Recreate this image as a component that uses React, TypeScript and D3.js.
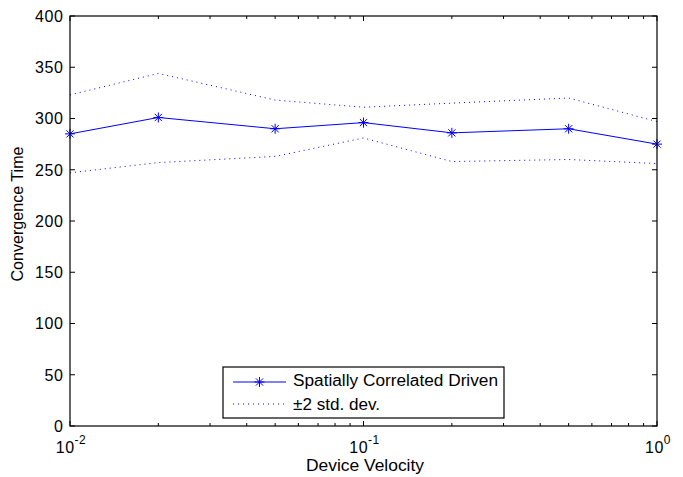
import * as d3 from "d3";
import { useEffect, useRef } from "react";

// ---- data ----
const velocities = [0.01, 0.02, 0.05, 0.1, 0.2, 0.5, 1];
const meanTime = [285, 301, 290, 296, 286, 290, 275];
const upperTime = [323, 344, 318, 311, 315, 320, 297];
const lowerTime = [247, 257, 263, 281, 258, 260, 256];
const yTicks = [0, 50, 100, 150, 200, 250, 300, 350, 400];
const xMajor = [0.01, 0.1, 1];
const xMajorExp = ["-2", "-1", "0"];
const legendLabels = ["Spatially Correlated Driven", "\u00b12 std. dev."];

export default function App() {
  const ref = useRef<SVGSVGElement>(null);

  useEffect(() => {
    const width = 683;
    const height = 477;
    const margin = { top: 16, right: 26, bottom: 51, left: 70 };
    const innerW = width - margin.left - margin.right;
    const innerH = height - margin.top - margin.bottom;
    const font = "'Liberation Sans', Arial, Helvetica, sans-serif";

    const svg = d3.select(ref.current);
    svg.selectAll("*").remove();
    svg.attr("viewBox", `0 0 ${width} ${height}`);

    const g = svg.append("g").attr("transform", `translate(${margin.left},${margin.top})`);

    const x = d3.scaleLog().domain([0.01, 1]).range([0, innerW]);
    const y = d3.scaleLinear().domain([0, 400]).range([innerH, 0]);

    const blue = "#0000ff";
    const tick = 5;

    // minor log ticks
    const minor: number[] = [];
    for (const dec of [0.01, 0.1]) for (let k = 2; k <= 9; k++) minor.push(dec * k);

    const tg = g.append("g").attr("stroke", "#000").attr("stroke-width", 1);
    minor.forEach((v) => {
      tg.append("line").attr("x1", x(v)).attr("x2", x(v)).attr("y1", innerH).attr("y2", innerH - 3);
      tg.append("line").attr("x1", x(v)).attr("x2", x(v)).attr("y1", 0).attr("y2", 3);
    });
    xMajor.forEach((v) => {
      tg.append("line").attr("x1", x(v)).attr("x2", x(v)).attr("y1", innerH).attr("y2", innerH - tick);
      tg.append("line").attr("x1", x(v)).attr("x2", x(v)).attr("y1", 0).attr("y2", tick);
    });
    yTicks.forEach((v) => {
      tg.append("line").attr("x1", 0).attr("x2", tick).attr("y1", y(v)).attr("y2", y(v));
      tg.append("line").attr("x1", innerW).attr("x2", innerW - tick).attr("y1", y(v)).attr("y2", y(v));
    });

    // y tick labels
    g.append("g")
      .selectAll("text")
      .data(yTicks)
      .join("text")
      .attr("x", -6.5)
      .attr("y", (d) => y(d))
      .attr("dy", "0.36em")
      .attr("text-anchor", "end")
      .attr("font-family", font)
      .attr("font-size", 16)
      .attr("letter-spacing", 0.6)
      .text((d) => d);

    // x tick labels 10^n
    xMajor.forEach((v, i) => {
      const t = g
        .append("text")
        .attr("x", x(v) + 1)
        .attr("y", innerH + 27)
        .attr("text-anchor", "middle")
        .attr("font-family", font)
        .attr("font-size", 16)
        .attr("letter-spacing", 0.5);
      t.append("tspan").text("10");
      t.append("tspan").attr("font-size", 12).attr("dy", -9).text(xMajorExp[i]);
    });

    // dotted bounds
    const line = d3
      .line<number>()
      .x((_, i) => x(velocities[i]))
      .y((d) => y(d));

    [upperTime, lowerTime].forEach((arr) => {
      g.append("path")
        .datum(arr)
        .attr("d", line)
        .attr("fill", "none")
        .attr("stroke", blue)
        .attr("stroke-width", 1)
        .attr("stroke-dasharray", "1,4");
    });

    // main line
    g.append("path")
      .datum(meanTime)
      .attr("d", line)
      .attr("fill", "none")
      .attr("stroke", blue)
      .attr("stroke-width", 1);

    const star = (sel: any, cx: number, cy: number) => {
      const r = 5;
      const d = 3.6;
      const p = `M${cx - r},${cy}L${cx + r},${cy}M${cx},${cy - r}L${cx},${cy + r}M${cx - d},${cy - d}L${cx + d},${cy + d}M${cx - d},${cy + d}L${cx + d},${cy - d}`;
      sel.append("path").attr("d", p).attr("stroke", blue).attr("stroke-width", 1).attr("fill", "none");
    };
    const mg = g.append("g");
    meanTime.forEach((v, i) => star(mg, x(velocities[i]), y(v)));

    // frame
    g.append("rect")
      .attr("width", innerW)
      .attr("height", innerH)
      .attr("fill", "none")
      .attr("stroke", "#000")
      .attr("stroke-width", 1.2);

    // legend
    const lg = svg.append("g").attr("transform", "translate(223,367)");
    lg.append("rect")
      .attr("width", 281)
      .attr("height", 51)
      .attr("fill", "#fff")
      .attr("stroke", "#000")
      .attr("stroke-width", 1.2);
    lg.append("line").attr("x1", 10).attr("x2", 63).attr("y1", 15).attr("y2", 15).attr("stroke", blue);
    star(lg, 36.5, 15);
    lg.append("line")
      .attr("x1", 10)
      .attr("x2", 63)
      .attr("y1", 37)
      .attr("y2", 37)
      .attr("stroke", blue)
      .attr("stroke-dasharray", "1,4");
    const legendWidths = [205, 87];
    legendLabels.forEach((l, i) => {
      lg.append("text")
        .attr("x", 70)
        .attr("y", 19 + i * 24)
        .attr("font-family", font)
        .attr("font-size", 16)
        .attr("textLength", legendWidths[i])
        .attr("lengthAdjust", "spacingAndGlyphs")
        .text(l);
    });

    // axis titles
    svg
      .append("text")
      .attr("x", 365)
      .attr("y", 471)
      .attr("text-anchor", "middle")
      .attr("font-family", font)
      .attr("font-size", 16)
      .attr("textLength", 118)
      .attr("lengthAdjust", "spacingAndGlyphs")
      .text("Device Velocity");
    svg
      .append("text")
      .attr("transform", `translate(23,214) rotate(-90)`)
      .attr("text-anchor", "middle")
      .attr("font-family", font)
      .attr("font-size", 16)
      .attr("textLength", 135)
      .attr("lengthAdjust", "spacingAndGlyphs")
      .text("Convergence Time");
  }, []);

  return (
    <svg
      ref={ref}
      width={683}
      height={477}
      style={{ position: "absolute", left: 0, top: 0, background: "#fff" }}
    />
  );
}
